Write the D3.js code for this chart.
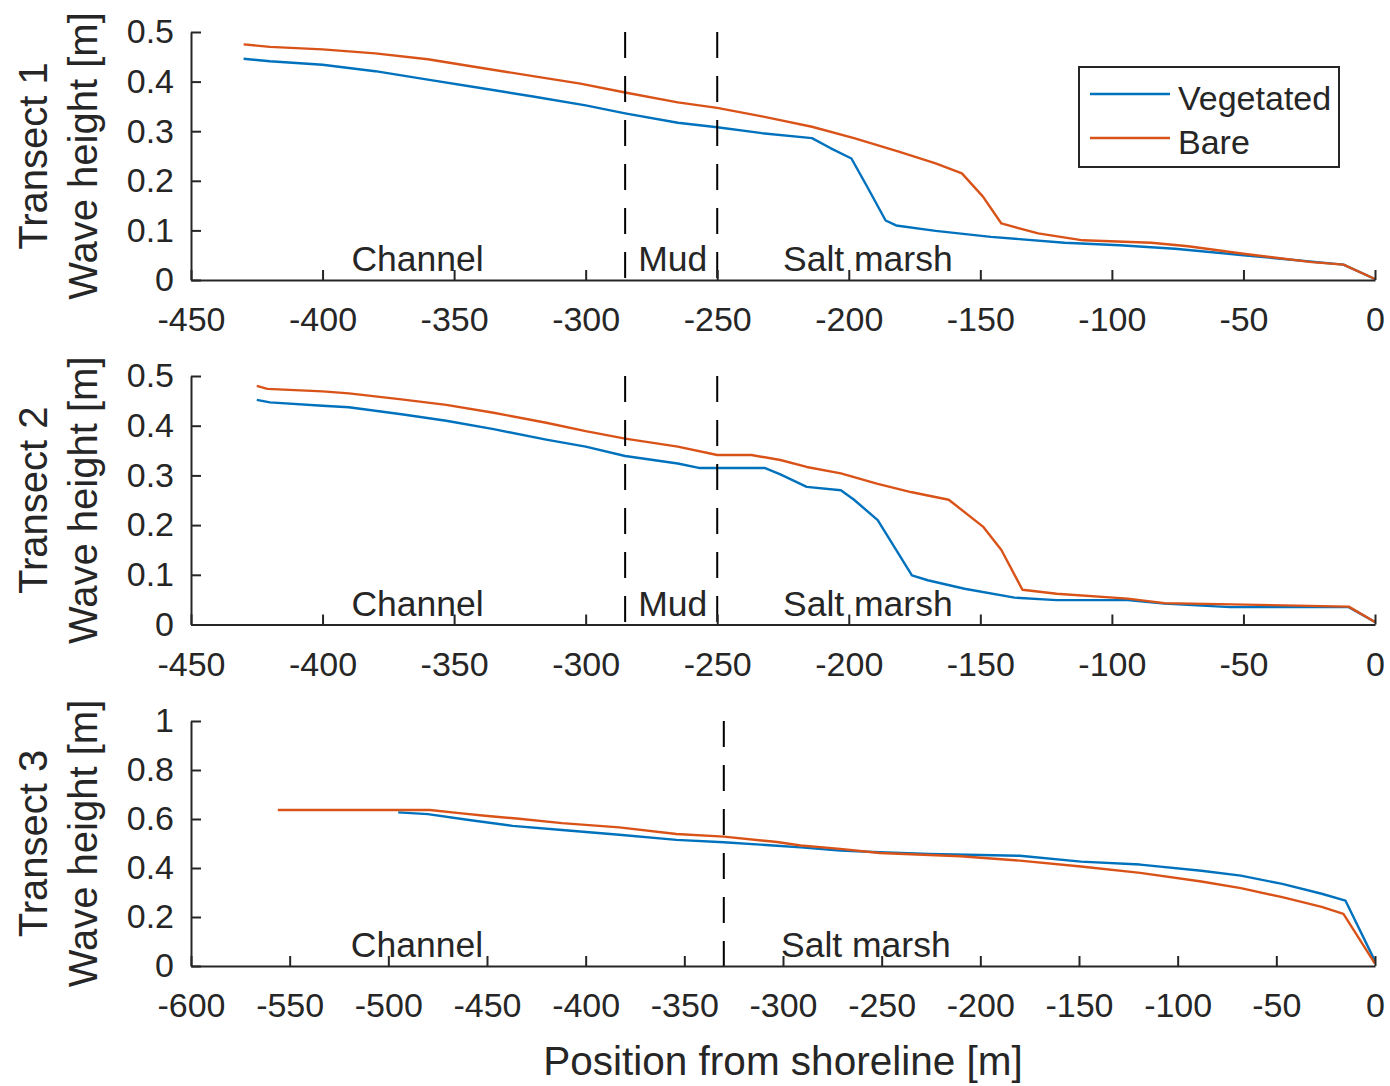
<!DOCTYPE html>
<html>
<head>
<meta charset="utf-8">
<script src="https://cdn.jsdelivr.net/npm/d3@7"></script>
<style>
  body { margin: 0; background: #fff; }
  svg text { font-family: "Liberation Sans", Arial, Helvetica, sans-serif; fill: #262626; }
</style>
</head>
<body>
<svg id="chart" width="1390" height="1086"></svg>
<script>
// ---- Transect 1: wave height [m] vs position from shoreline [m]
const t1VegX  = [-430, -420, -400, -380, -360, -340, -320, -300, -285, -265, -250, -233, -214, -207, -199, -193, -186, -182, -167, -146, -118, -97, -76, -50, -12, 0];
const t1VegY  = [0.446, 0.441, 0.434, 0.421, 0.404, 0.387, 0.370, 0.352, 0.336, 0.317, 0.308, 0.296, 0.286, 0.266, 0.245, 0.188, 0.120, 0.110, 0.099, 0.087, 0.075, 0.070, 0.063, 0.050, 0.031, 0.002];
const t1BareX = [-430, -420, -400, -380, -360, -340, -320, -302, -285, -265, -250, -233, -214, -198, -181, -167, -157, -149, -142, -128, -111, -85, -71, -50, -24, -12, 0];
const t1BareY = [0.475, 0.470, 0.465, 0.457, 0.445, 0.428, 0.411, 0.396, 0.378, 0.358, 0.347, 0.330, 0.309, 0.286, 0.259, 0.235, 0.215, 0.168, 0.114, 0.094, 0.080, 0.075, 0.068, 0.053, 0.036, 0.031, 0.002];

// ---- Transect 2
const t2VegX  = [-425, -420, -400, -390, -370, -353, -335, -315, -300, -285, -265, -257, -232, -226, -216, -203, -198, -189, -182, -176, -170, -156, -137, -121, -94, -80, -55, -10, 0];
const t2VegY  = [0.452, 0.447, 0.440, 0.437, 0.423, 0.410, 0.393, 0.372, 0.358, 0.339, 0.324, 0.315, 0.315, 0.302, 0.277, 0.270, 0.251, 0.210, 0.150, 0.099, 0.089, 0.072, 0.054, 0.049, 0.049, 0.042, 0.035, 0.035, 0.005];
const t2BareX = [-425, -421, -400, -390, -370, -353, -335, -315, -300, -285, -265, -250, -237, -226, -216, -203, -189, -176, -162, -149, -142, -134, -121, -94, -80, -10, 0];
const t2BareY = [0.480, 0.474, 0.469, 0.465, 0.453, 0.442, 0.426, 0.406, 0.389, 0.374, 0.358, 0.341, 0.341, 0.331, 0.317, 0.304, 0.283, 0.266, 0.251, 0.197, 0.150, 0.070, 0.062, 0.052, 0.043, 0.036, 0.005];

// ---- Transect 3
const t3VegX  = [-495, -480, -460, -437, -412, -383, -354, -330, -303, -291, -271, -251, -226, -180, -149, -119, -88, -68, -47, -27, -15, 0];
const t3VegY  = [0.627, 0.620, 0.597, 0.572, 0.555, 0.536, 0.515, 0.505, 0.491, 0.484, 0.471, 0.464, 0.457, 0.450, 0.426, 0.414, 0.389, 0.369, 0.335, 0.295, 0.267, 0.020];
const t3BareX = [-556, -479, -464, -451, -435, -412, -383, -354, -330, -303, -291, -271, -251, -210, -180, -149, -119, -88, -68, -47, -27, -16, 0];
const t3BareY = [0.637, 0.637, 0.624, 0.613, 0.602, 0.583, 0.566, 0.539, 0.528, 0.506, 0.492, 0.478, 0.461, 0.448, 0.430, 0.406, 0.380, 0.345, 0.318, 0.281, 0.241, 0.213, 0.010];

// ---- Axes ticks
const xTicks12 = [-450, -400, -350, -300, -250, -200, -150, -100, -50, 0];
const xTicks3  = [-600, -550, -500, -450, -400, -350, -300, -250, -200, -150, -100, -50, 0];
const yTicks12 = [0, 0.1, 0.2, 0.3, 0.4, 0.5];
const yTicks3  = [0, 0.2, 0.4, 0.6, 0.8, 1];

// ---- Zone boundaries and zone names
const bounds12 = [-285, -250];
const bounds3  = [-330];
const zones12  = [["Channel", -389], ["Mud", -280], ["Salt marsh", -225]];
const zones3   = [["Channel", -519], ["Salt marsh", -301]];

const seriesNames  = ["Vegetated", "Bare"];
const seriesColors = ["#0072BD", "#D95319"];

const zip = (xs, ys) => xs.map((x, i) => [x, ys[i]]);

const panels = [
  { title: "Transect 1", xDom: [-450, 0], yDom: [0, 0.5], xTicks: xTicks12, yTicks: yTicks12,
    series: [zip(t1VegX, t1VegY), zip(t1BareX, t1BareY)], bounds: bounds12, zones: zones12,
    top: 32, bottom: 280, legend: true },
  { title: "Transect 2", xDom: [-450, 0], yDom: [0, 0.5], xTicks: xTicks12, yTicks: yTicks12,
    series: [zip(t2VegX, t2VegY), zip(t2BareX, t2BareY)], bounds: bounds12, zones: zones12,
    top: 376, bottom: 624.5 },
  { title: "Transect 3", xDom: [-600, 0], yDom: [0, 1], xTicks: xTicks3, yTicks: yTicks3,
    series: [zip(t3VegX, t3VegY), zip(t3BareX, t3BareY)], bounds: bounds3, zones: zones3,
    top: 721, bottom: 966 }
];

const svg = d3.select("#chart");
const left = 191, right = 1375;
const ink = "#262626";
const fmt = d => String(d);

panels.forEach(p => {
  const x = d3.scaleLinear().domain(p.xDom).range([left, right]);
  const y = d3.scaleLinear().domain(p.yDom).range([p.bottom, p.top]);
  const g = svg.append("g");

  // data lines
  const line = d3.line().x(d => x(d[0])).y(d => y(d[1]));
  p.series.forEach((s, i) => {
    g.append("path").datum(s)
      .attr("d", line)
      .attr("fill", "none")
      .attr("stroke", seriesColors[i])
      .attr("stroke-width", 2.4)
      .attr("stroke-linejoin", "round");
  });

  // zone boundaries
  p.bounds.forEach(b => {
    g.append("line")
      .attr("x1", x(b)).attr("x2", x(b))
      .attr("y1", p.top).attr("y2", p.bottom)
      .attr("stroke", "#000").attr("stroke-width", 2)
      .attr("stroke-dasharray", "26 18");
  });

  // zone names
  p.zones.forEach(([name, pos]) => {
    g.append("text")
      .attr("x", x(pos)).attr("y", p.bottom - 9)
      .attr("font-size", 35.5)
      .text(name);
  });

  // axes
  const ax = g.append("g").attr("transform", `translate(0,${p.bottom})`)
    .call(d3.axisBottom(x).tickValues(p.xTicks).tickFormat(fmt)
      .tickSizeInner(-10).tickSizeOuter(0).tickPadding(27));
  const ay = g.append("g").attr("transform", `translate(${left},0)`)
    .call(d3.axisLeft(y).tickValues(p.yTicks).tickFormat(fmt)
      .tickSizeInner(-10).tickSizeOuter(0).tickPadding(17));
  [ax, ay].forEach(a => {
    a.attr("font-family", null).attr("font-size", null);
    a.select(".domain").attr("stroke", ink).attr("stroke-width", 2);
    a.selectAll(".tick line").attr("stroke", ink).attr("stroke-width", 2);
    a.selectAll(".tick text").attr("fill", ink).attr("font-size", 34);
  });

  // y-axis titles
  const cy = (p.top + p.bottom) / 2;
  svg.append("text")
    .attr("transform", `translate(47,${cy}) rotate(-90)`)
    .attr("text-anchor", "middle").attr("font-size", 40)
    .text(p.title);
  svg.append("text")
    .attr("transform", `translate(97,${cy}) rotate(-90)`)
    .attr("text-anchor", "middle").attr("font-size", 40)
    .text("Wave height [m]");

  // legend
  if (p.legend) {
    const lg = svg.append("g");
    lg.append("rect")
      .attr("x", 1079).attr("y", 67).attr("width", 260).attr("height", 100)
      .attr("fill", "#fff").attr("stroke", ink).attr("stroke-width", 2);
    seriesNames.forEach((n, i) => {
      const ly = 94 + i * 44;
      lg.append("line")
        .attr("x1", 1090).attr("x2", 1170).attr("y1", ly).attr("y2", ly)
        .attr("stroke", seriesColors[i]).attr("stroke-width", 2.4);
      lg.append("text")
        .attr("x", 1178).attr("y", ly + 16)
        .attr("font-size", 34).attr("fill", "#000")
        .text(n);
    });
  }
});

// shared x-axis title
svg.append("text")
  .attr("x", (left + right) / 2).attr("y", 1075)
  .attr("text-anchor", "middle").attr("font-size", 40.5)
  .text("Position from shoreline [m]");
</script>
</body>
</html>
